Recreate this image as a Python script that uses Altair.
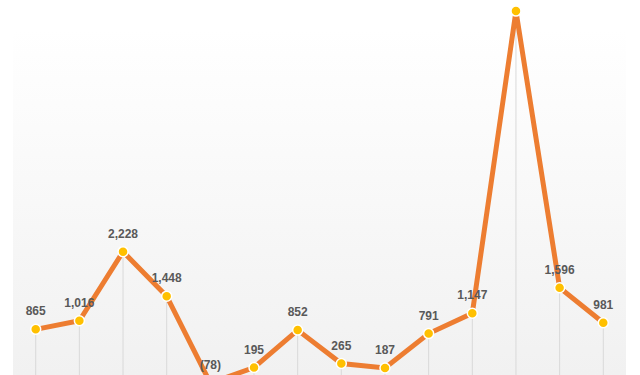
import altair as alt
import pandas as pd

idx = list(range(14))
values = [865, 1016, 2228, 1448, -78, 195, 852, 265, 187, 791, 1147, 6450, 1596, 981]
labels = [f"({abs(v):,})" if v < 0 else f"{v:,}" for v in values]

df = pd.DataFrame({"i": idx, "v": values, "label": labels})

W, H = 640, 375
xs = alt.Scale(domain=[-0.818, 13.841], nice=False, zero=False)
ys = alt.Scale(domain=[64, 6645], nice=False, zero=False)

bg = alt.Chart(df).mark_rect(
    color=alt.Gradient(
        gradient="linear",
        stops=[alt.GradientStop(color="#ffffff", offset=0),
               alt.GradientStop(color="#ffffff", offset=0.08),
               alt.GradientStop(color="#f1f1f1", offset=1)],
        x1=0, x2=0, y1=0, y2=1,
    )
).encode(x=alt.value(13), x2=alt.value(626), y=alt.value(0), y2=alt.value(H))

x = alt.X("i:Q", scale=xs, axis=None)
y = alt.Y("v:Q", scale=ys, axis=None)

drops = alt.Chart(df).mark_rule(color="#d9d9d9", strokeWidth=1, clip=True).encode(
    x=x, y=y, y2=alt.value(H)
)
line = alt.Chart(df).mark_line(color="#ed7d31", strokeWidth=5, clip=True).encode(x=x, y=y)
pts = alt.Chart(df).mark_point(
    filled=True, shape="circle", size=100, fill="#ffc000", stroke="#ffffff",
    strokeWidth=1.5, opacity=1, clip=True
).encode(x=x, y=y)
# the peak's label sits above the visible frame in the reference, so it is not drawn
txt = alt.Chart(df).transform_filter("datum.v < 6000").mark_text(
    font="Liberation Sans", fontSize=12, fontWeight="bold", color="#595959",
    baseline="middle", dy=-18, clip=True
).encode(x=x, y=y, text="label:N")

chart = alt.layer(bg, drops, line, pts, txt).properties(
    width=W, height=H, padding=0, autosize=alt.AutoSizeParams(type="none"),
    background="#ffffff"
).configure_view(stroke=None)

chart.save("out.html", embed_options={"renderer": "svg", "actions": False})
